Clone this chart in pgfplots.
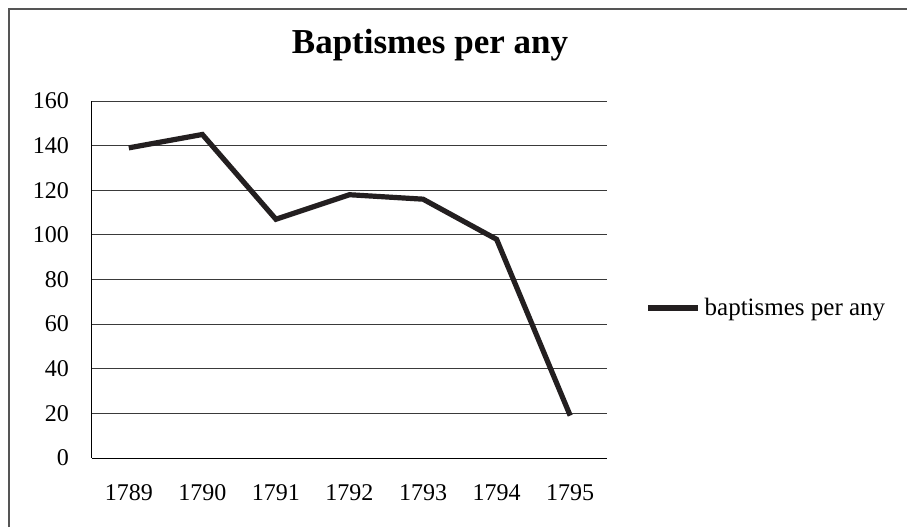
\documentclass[border=0pt]{standalone}
\usepackage{pgfplots}
\pgfplotsset{compat=1.18}
\usepackage{fontspec}
\setmainfont{Liberation Serif}
\definecolor{linec}{HTML}{231F20}
\definecolor{gridc}{HTML}{3A3A3A}
\definecolor{framec}{HTML}{555555}
\begin{document}
\begin{tikzpicture}
\useasboundingbox (0,0) rectangle (453.5pt,263.5pt);
\draw[framec, line width=0.6pt] (4.5pt,0pt) -- (4.5pt,259pt) -- (453.5pt,259pt);
\node[font=\fontsize{17.5}{20}\selectfont\bfseries] at (215pt,241pt) {Baptismes per any};
\begin{axis}[
  at={(46pt,34.5pt)}, anchor=south west,
  scale only axis, width=257.5pt, height=178.5pt,
  xmin=-0.5, xmax=6.5, ymin=0, ymax=160,
  xtick={0,...,6},
  xticklabels={1789,1790,1791,1792,1793,1794,1795},
  ytick={0,20,...,160},
  axis x line*=bottom, axis y line*=left,
  axis line style={draw=black, line width=0.5pt, -},
  major tick length=0pt,
  ymajorgrids, grid style={gridc, line width=0.5pt},
  /pgf/number format/assume math mode=true,
  tick label style={font=\fontsize{12}{14}\selectfont},
  yticklabel style={xshift=-8pt},
  xticklabel style={yshift=-9pt, anchor=north, text height=8.5pt, text depth=0pt},
  legend style={at={(1.074,0.42)}, anchor=west, draw=none, fill=none,
    inner sep=0pt, font=\fontsize{12.5}{14}\selectfont},
  legend image code/.code={\draw[#1] (0pt,0pt) -- (25pt,0pt);},
  clip=false,
]
\addplot[linec, line width=2.6pt, line join=miter] coordinates {
  (0,139) (1,145) (2,107) (3,118) (4,116) (5,98) (6,19)
};
\addlegendentry{baptismes per any}
\end{axis}
\end{tikzpicture}
\end{document}
